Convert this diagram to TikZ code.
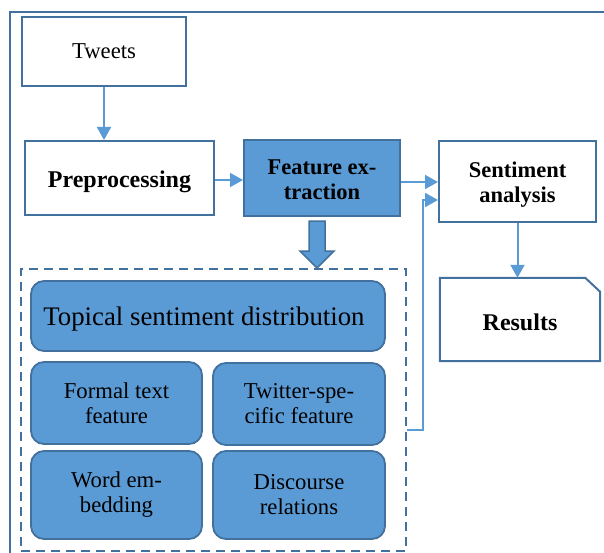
\documentclass[tikz,border=0pt]{standalone}
\usepackage{fontspec}
\setmainfont{Liberation Serif}[Ligatures=TeX]
\newfontfamily\timesfont{Liberation Serif}
\usetikzlibrary{arrows.meta,calc}
\definecolor{edgeblue}{HTML}{41719C}
\definecolor{fillblue}{HTML}{5B9BD5}
% extra room above the first line: moves the text down by half the amount
\newcommand{\padtop}[2]{\raisebox{0pt}[\dimexpr\height+#1\relax][\depth]{#2}}
\tikzset{
  plainbox/.style={draw=edgeblue, line width=2pt, fill=white, inner sep=2pt, align=center,
    font=\timesfont\fontsize{22.7}{25}\selectfont},
  boldbox/.style={plainbox, font=\timesfont\fontsize{22.5}{25}\selectfont\bfseries},
  bluebox/.style={plainbox, fill=fillblue, font=\timesfont\fontsize{22.5}{25}\selectfont\bfseries},
  featbox/.style={draw=edgeblue, line width=1.8pt, fill=fillblue, rounded corners=13pt,
    align=center, inner sep=2pt, font=\timesfont\fontsize{22.7}{25}\selectfont},
  groupbox/.style={draw=edgeblue, line width=2pt, dash pattern=on 9pt off 6pt},
  arr/.style={draw=fillblue, line width=2pt, -{Triangle[length=13pt,width=14pt]}},
  blockarrow/.style={draw=edgeblue, line width=1.5pt, fill=fillblue, line join=miter},
  frameline/.style={draw=edgeblue, line width=2.8pt}
}
\begin{document}
\begin{tikzpicture}[x=1pt,y=-1pt]
\useasboundingbox (0,0) rectangle (604,553);
% outer frame (clipped on the right and bottom)
\draw[frameline] (10,553) -- (10,12) -- (604,12);

\node[plainbox, minimum width=164pt, minimum height=69pt] (tweets) at (104,51.5) {Tweets};
\node[boldbox, minimum width=189pt, minimum height=74pt, font=\timesfont\fontsize{24}{25}\selectfont\bfseries] (prep) at (119.5,178) {\padtop{8pt}{Preprocessing}};
\node[bluebox, minimum width=156pt, minimum height=76pt] (feat) at (322,178) {\padtop{4pt}{Feature ex-}\\traction};
\node[boldbox, minimum width=157pt, minimum height=81pt] (sent) at (517.5,181.5) {\padtop{6pt}{Sentiment}\\analysis};

% Results with a cut top-right corner
\node[font=\timesfont\fontsize{24}{25}\selectfont\bfseries, minimum width=160pt, minimum height=83pt, inner sep=0pt] (res) at (520,319.5) {\padtop{6pt}{Results}};
\draw[draw=edgeblue, line width=2pt, line join=miter]
  (res.north west) -- ($(res.north east)+(-15,0)$) -- ($(res.north east)+(0,14)$) -- (res.south east) -- (res.south west) -- cycle;

% group of features
\node[groupbox, minimum width=385pt, minimum height=282pt] (grp) at (213.5,410) {};
\node[featbox, minimum width=354pt, minimum height=70pt, font=\timesfont\fontsize{26.8}{30}\selectfont] (topic) at (208,316) {\padtop{6pt}{Topical sentiment distribution\kern8pt}};
\node[featbox, minimum width=171pt, minimum height=82pt] (formal) at (116.5,403) {Formal text\\feature};
\node[featbox, minimum width=172pt, minimum height=82pt] (twit) at (299,404) {Twitter-spe-\\cific feature};
\node[featbox, minimum width=171pt, minimum height=88pt] (word) at (116.5,495) {Word em-\\bedding};
\node[featbox, minimum width=172pt, minimum height=88pt] (disc) at (299,495) {Discourse\\relations};

% connectors
\draw[arr] (tweets.south) -- (tweets.south |- prep.north);
\draw[arr] ([yshift=-2pt]prep.east) -- ([yshift=-2pt]prep.east -| feat.west);
\draw[arr] ([yshift=-4pt]feat.east) -- ([yshift=-4pt]feat.east -| sent.west);
\coordinate (k) at (423,200);
\draw[arr] ([yshift=-20pt]grp.east) -| (k) -- (k -| sent.west);
\draw[arr] (sent.south) -- (sent.south |- res.north);

% block arrow from feature extraction to the group
\draw[blockarrow] ($(feat.south)+(-13,4)$) -- ++(16,0) -- ++(0,30) -- ++(9,0) -- ++(-17,17) -- ++(-17,-17) -- ++(9,0) -- cycle;
\end{tikzpicture}
\end{document}
